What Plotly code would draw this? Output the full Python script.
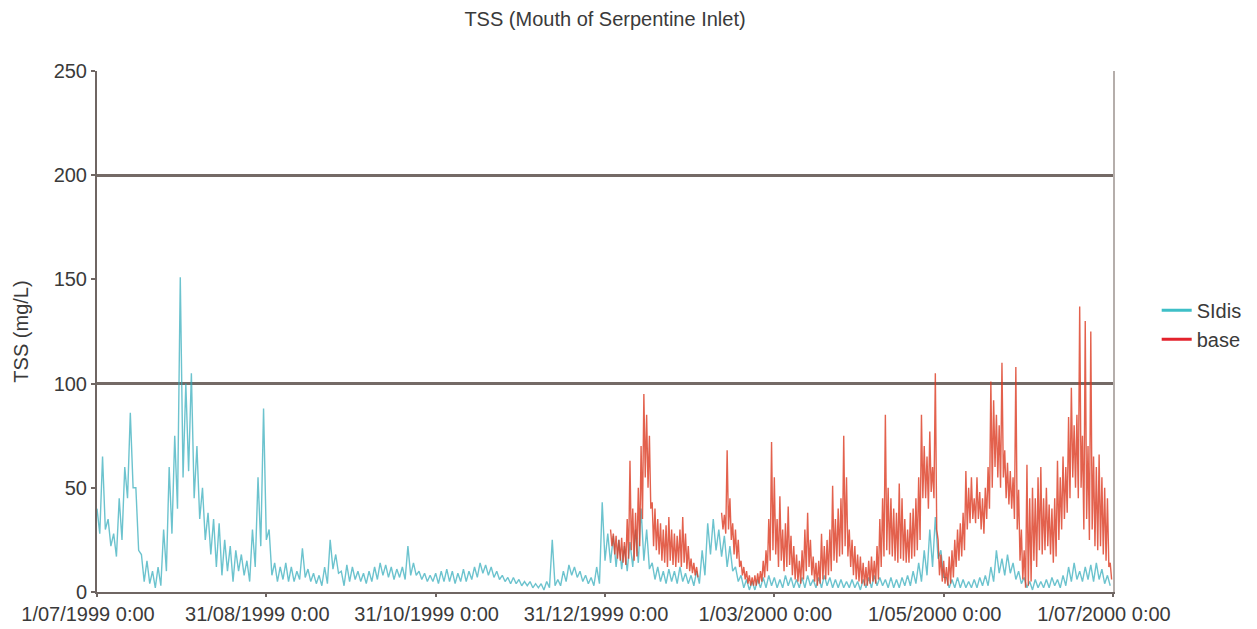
import pandas as pd
import plotly.graph_objects as go

# ---------------- data ----------------
title_text = "TSS (Mouth of Serpentine Inlet)"
y_title = "TSS (mg/L)"
name_sidis = "SIdis"
name_base = "base"

# SIdis: one high / low pair every 2 days starting 1/07/1999
sidis_start = "1999-07-01"
sidis_step_days = 2
sidis_hi = [
    40, 65, 35, 28, 45, 60, 86, 50, 18, 15, 10, 12, 30, 60, 75, 151, 100, 105,
    70, 50, 38, 35, 33, 25, 22, 20, 18, 15, 30, 55, 88, 30, 14, 12, 14, 12,
    10, 21, 11, 9, 8, 12, 25, 18, 10, 13,
    12, 10, 9, 10, 12, 14, 13, 12, 11, 12,
    22, 14, 10, 9, 8, 9, 10, 11, 10, 9,
    11, 10, 12, 14, 13, 12, 10, 8, 7, 7,
    6, 5, 5, 4, 4, 5, 25, 6, 10, 13,
    12, 10, 8, 7, 12, 43, 28,
    27, 25, 22, 24, 30, 40, 30, 14, 12, 10,
    11, 10, 12, 9, 8, 10, 20, 33, 35, 30,
    27, 22, 12, 8, 6, 5, 6, 7, 8, 7,
    6, 8, 7, 6, 7, 8, 6, 7, 8, 7,
    6,
    6, 5, 6, 5, 6, 7, 8, 7, 6, 7,
    6, 7, 8, 10, 14, 20, 30, 36, 20, 7,
    6, 7, 6, 5, 6, 7, 8, 12, 20, 16,
    18, 14, 10, 7, 5, 6, 5, 6, 7, 6,
    8, 12, 14, 10, 12, 13, 14, 11, 8,
]
sidis_lo = [
    28, 30, 22, 17, 25, 45, 50, 20, 5, 4, 2, 3, 10, 28, 40, 55, 58, 45,
    35, 25, 18, 12, 8, 10, 5, 10, 8, 5, 12, 22, 25, 8, 5, 6, 5, 5,
    6, 7, 5, 4, 3, 4, 11, 9, 3, 5,
    6, 5, 4, 5, 6, 8, 7, 6, 7, 6,
    8, 8, 6, 5, 5, 4, 5, 5, 4, 5,
    5, 6, 7, 9, 8, 7, 6, 5, 4, 4,
    3, 3, 2, 2, 1, 2, 3, 3, 5, 8,
    7, 5, 4, 3, 4, 15, 14,
    12, 11, 10, 12, 14, 15, 11, 6, 5, 4,
    5, 4, 5, 4, 3, 4, 8, 18, 20, 17,
    12, 10, 5, 2, 1, 1, 2, 2, 3, 2,
    2, 3, 2, 2, 2, 3, 2, 2, 3, 2,
    2,
    2, 2, 2, 1, 2, 2, 3, 3, 2, 2,
    2, 3, 3, 4, 5, 8, 12, 16, 7, 2,
    2, 2, 2, 2, 2, 3, 3, 5, 9, 8,
    9, 6, 4, 2, 1, 2, 2, 2, 3, 2,
    3, 5, 6, 5, 6, 5, 6, 4, 3,
]

# base: one high / low pair per day starting 2/01/2000 (None = no data)
base_start = "2000-01-02"
base_step_days = 1
base_hi = [
    30, 28, 27, 25, 26, 24, 35, 63, 40, 38,
    50, 70, 95, 85, 75, 43, 40, 35, 33, 30,
    32, 36, 30, 28, 27, 30, 36, 28, 22, 16,
    14, 12, None, None, None, None, None, None, None, None,
    38, 37, 68, 45, 33, 30, 25, 15, 12, 10,
    8, 7, 8, 9, 10, 15, 20, 35, 72, 55,
    35, 46, 30, 33, 41, 27, 22, 18, 15, 20,
    30, 38, 25, 17, 14, 15, 28, 22, 25, 30,
    51, 35, 40, 45, 75, 55, 30, 25, 22, 18,
    17, 14, 12, 15, 17, 15, 22, 35, 45, 85,
    50, 45, 40, 38, 52, 45, 35, 30, 38, 40,
    45, 55, 85, 70, 65, 77, 60, 105, 25, 18,
    15, 12, 17, 20, 25, 30, 33, 38, 58, 50,
    55, 45, 55, 48, 45, 50, 60, 101, 92, 85,
    80, 110, 68, 62, 58, 55, 108, 49, 30, 20,
    61, 45, 50, 45, 55, 60, 45, 50, 42, 40,
    45, 63, 55, 65, 60, 84, 98, 80, 85, 137,
    75, 130, 70, 125, 65, 60, 66, 55, 50, 45,
    14,
]
base_lo = [
    22, 18, 16, 15, 14, 13, 16, 20, 15, 17,
    22, 35, 55, 50, 40, 22, 20, 18, 15, 14,
    12, 15, 13, 12, 14, 12, 14, 11, 10, 9,
    8, 7, None, None, None, None, None, None, None, None,
    30, 28, 30, 25, 18, 16, 12, 8, 6, 4,
    3, 3, 3, 4, 5, 7, 10, 15, 20, 18,
    12, 15, 10, 12, 13, 8, 6, 5, 4, 6,
    10, 12, 8, 5, 3, 4, 6, 6, 8, 10,
    15, 14, 17, 18, 22, 17, 12, 8, 6, 5,
    4, 3, 3, 4, 5, 4, 6, 12, 17, 20,
    18, 17, 15, 14, 16, 15, 14, 14, 16, 17,
    20, 25, 45, 45, 40, 48, 45, 30, 8, 5,
    4, 3, 4, 7, 12, 15, 17, 20, 30, 33,
    35, 33, 35, 30, 28, 35, 40, 50, 60, 55,
    50, 55, 45, 42, 40, 35, 30, 15, 6, 2,
    3, 5, 15, 12, 20, 18, 20, 22, 18, 14,
    17, 25, 30, 35, 38, 45, 55, 50, 45, 50,
    30, 35, 25, 30, 22, 20, 22, 18, 15, 12,
    6,
]

x_range = ["1999-07-01", "2000-07-01"]
x_tick_dates = ["1999-07-01", "1999-08-31", "1999-10-31", "1999-12-31",
                "2000-03-01", "2000-05-01", "2000-07-01"]
x_tick_labels = ["1/07/1999 0:00", "31/08/1999 0:00", "31/10/1999 0:00",
                 "31/12/1999 0:00", "1/03/2000 0:00", "1/05/2000 0:00",
                 "1/07/2000 0:00"]
y_range = [0, 250]
y_tick_values = [0, 50, 100, 150, 200, 250]
y_grid_step = 100

# ---------------- build traces ----------------
def zigzag(start, step_days, hi, lo):
    t0 = pd.Timestamp(start)
    xs, ys = [], []
    for i, (h, l) in enumerate(zip(hi, lo)):
        t = t0 + pd.Timedelta(days=i * step_days)
        xs += [t, t + pd.Timedelta(days=step_days / 2)]
        ys += [h, l]
    return xs, ys

sx, sy = zigzag(sidis_start, sidis_step_days, sidis_hi, sidis_lo)
bx, by = zigzag(base_start, base_step_days, base_hi, base_lo)

FONT = "Liberation Sans, Arial, Helvetica, sans-serif"
TXT = "#3a3a3a"
AXIS = "#6f6663"
CYAN = "#3ebfc7"
RED = "#e3222c"

fig = go.Figure()
fig.add_trace(go.Scatter(x=sx, y=sy, mode="lines", name=name_sidis,
                         line=dict(color="rgba(45,170,185,0.7)", width=1.4),
                         showlegend=False, connectgaps=False, yaxis="y"))
fig.add_trace(go.Scatter(x=bx, y=by, mode="lines", name=name_base,
                         line=dict(color="rgba(220,58,32,0.8)", width=1.4),
                         showlegend=False, connectgaps=False, yaxis="y2"))
# legend entries
fig.add_trace(go.Scatter(x=[None], y=[None], mode="lines", name=name_sidis,
                         line=dict(color=CYAN, width=3)))
fig.add_trace(go.Scatter(x=[None], y=[None], mode="lines", name=name_base,
                         line=dict(color=RED, width=3)))

fig.update_layout(
    width=1257, height=629,
    margin=dict(l=97, r=144, t=71, b=37, autoexpand=False),
    paper_bgcolor="white", plot_bgcolor="white",
    font=dict(family=FONT, size=20, color=TXT),
    title=dict(text=title_text, x=(97 + 1113) / 2 / 1257, xanchor="center",
               y=1 - 19 / 629, yanchor="middle",
               font=dict(family=FONT, size=20, color=TXT)),
    showlegend=True,
    legend=dict(x=1.043, xanchor="left", y=0.513, yanchor="middle",
                bgcolor="rgba(0,0,0,0)", font=dict(size=20, color=TXT),
                tracegroupgap=0, itemwidth=30),
    xaxis=dict(type="date", range=x_range, tickvals=x_tick_dates,
               ticktext=x_tick_labels, showgrid=False, zeroline=False,
               showline=True, linecolor=AXIS, linewidth=2,
               ticks="outside", ticklen=3, tickwidth=2, tickcolor=AXIS,
               tickfont=dict(size=20, color=TXT), ticklabelshift=-9,
               automargin=False),
    yaxis=dict(range=y_range, tickvals=y_tick_values, showgrid=False,
               zeroline=False, showline=True, linecolor=AXIS, linewidth=2,
               ticks="outside", ticklen=4, tickwidth=2, tickcolor=AXIS,
               tickfont=dict(size=20, color=TXT),
               title=dict(text=y_title, font=dict(size=20, color=TXT), standoff=20),
               automargin=False),
    yaxis2=dict(overlaying="y", matches="y", side="right", range=y_range,
                showgrid=True, gridcolor="#746a66", gridwidth=2.5,
                tick0=0, dtick=y_grid_step, showticklabels=False, ticks="",
                zeroline=False, showline=True, linecolor="#b5aeab", linewidth=1.5,
                automargin=False),
)

fig.write_html(
    "out.html",
    config={"displayModeBar": False},
    post_script="document.body.style.margin='0';document.body.style.overflow='hidden';",
)
